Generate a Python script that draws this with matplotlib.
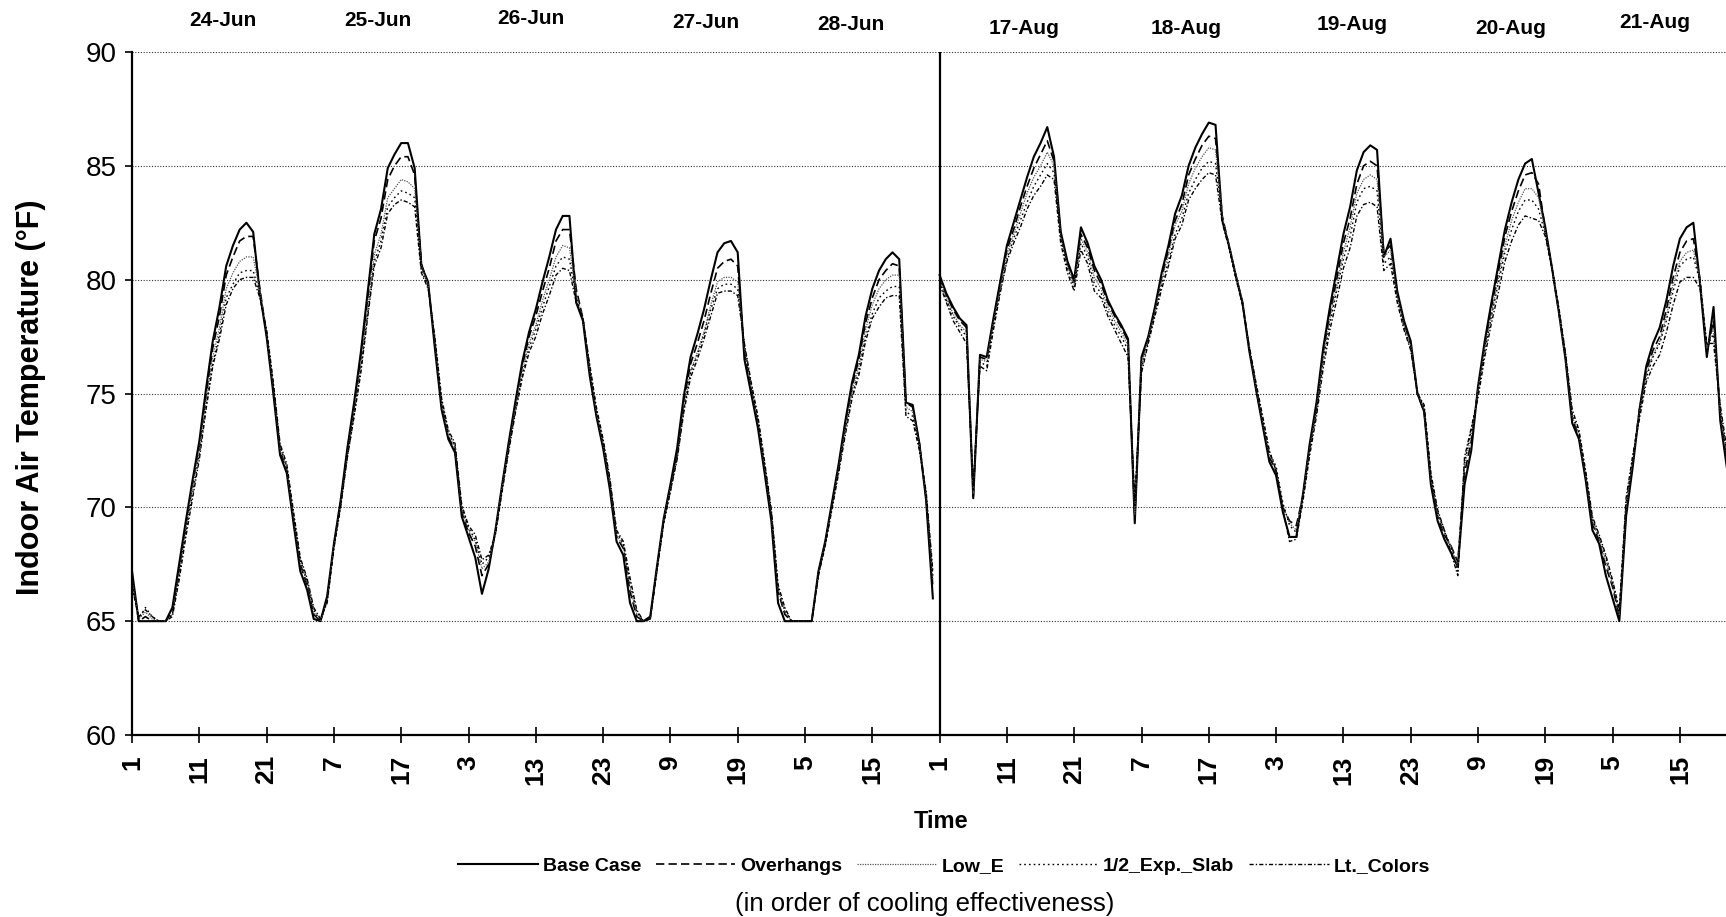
import numpy as np
import matplotlib
matplotlib.use("Agg")
import matplotlib.pyplot as plt

plt.rcParams['font.family'] = ['Liberation Sans', 'DejaVu Sans']

# ---------------- data (hourly indoor air temperature, deg F) ----------------
base_case = [
    67.2, 65.0, 65.0, 65.0, 65.0, 65.0, 65.6, 67.5, 69.4, 71.2, 72.9, 75.2, 77.3, 78.8, 80.6, 81.5, 82.2, 82.5, 82.1, 79.4, 77.5, 75.0, 72.3, 71.5,
    69.3, 67.2, 66.4, 65.1, 65.0, 66.1, 68.4, 70.3, 72.6, 74.6, 76.8, 79.4, 82.0, 83.1, 84.9, 85.5, 86.0, 86.0, 84.9, 80.6, 79.9, 77.0, 74.3, 73.0,
    72.4, 69.6, 68.7, 67.8, 66.2, 67.3, 69.0, 71.0, 72.9, 74.7, 76.4, 77.7, 78.7, 79.9, 81.0, 82.2, 82.8, 82.8, 79.0, 78.2, 75.8, 74.0, 72.6, 70.8,
    68.5, 67.9, 65.8, 65.0, 65.0, 65.2, 67.4, 69.5, 71.0, 72.6, 74.9, 76.6, 77.6, 78.7, 80.0, 81.2, 81.6, 81.7, 81.2, 76.5, 75.0, 73.5, 71.5, 69.4,
    65.8, 65.0, 65.0, 65.0, 65.0, 65.0, 67.2, 68.5, 70.2, 71.9, 73.8, 75.5, 76.7, 78.4, 79.6, 80.4, 80.9, 81.2, 80.9, 74.6, 74.5, 72.8, 70.3, 66.0,
    80.2, 79.4, 78.8, 78.3, 78.0, 70.4, 76.7, 76.6, 78.3, 79.9, 81.5, 82.5, 83.5, 84.5, 85.4, 86.0, 86.7, 85.4, 82.1, 80.8, 80.0, 82.3, 81.6, 80.6,
    80.0, 79.1, 78.5, 78.0, 77.4, 69.3, 76.6, 77.5, 78.8, 80.3, 81.5, 82.9, 83.7, 85.0, 85.8, 86.4, 86.9, 86.8, 82.6, 81.5, 80.2, 79.0, 76.9, 75.2,
    73.6, 72.0, 71.4, 69.8, 68.7, 68.7, 70.6, 72.8, 74.6, 77.0, 78.8, 80.4, 82.0, 83.2, 84.8, 85.6, 85.9, 85.7, 81.0, 81.8, 79.5, 78.2, 77.3, 75.0,
    74.2, 71.0, 69.4, 68.6, 68.0, 67.4, 71.0, 72.5, 75.3, 77.3, 79.0, 80.6, 82.2, 83.4, 84.4, 85.1, 85.3, 83.8, 82.3, 80.5, 78.6, 76.5, 73.7, 73.0,
    71.2, 69.0, 68.4, 67.0, 66.0, 65.0, 69.6, 71.8, 74.3, 76.2, 77.2, 77.9, 79.1, 80.6, 81.8, 82.3, 82.5, 79.8, 76.6, 78.8, 73.8, 71.7,
]

overhangs = [
    67.0, 65.0, 65.2, 65.0, 65.0, 65.0, 65.4, 67.3, 69.2, 71.0, 72.7, 74.9, 77.0, 78.4, 80.2, 81.0, 81.7, 81.9, 81.9, 79.6, 77.6, 75.2, 72.5, 71.6,
    69.5, 67.5, 66.6, 65.3, 65.0, 66.0, 68.3, 70.2, 72.5, 74.4, 76.6, 79.1, 81.7, 82.7, 84.4, 85.0, 85.4, 85.4, 84.6, 80.7, 79.8, 77.2, 74.5, 73.1,
    72.5, 69.8, 68.9, 68.3, 67.0, 67.5, 68.9, 70.9, 72.8, 74.6, 76.2, 77.5, 78.4, 79.5, 80.5, 81.7, 82.2, 82.2, 79.6, 78.3, 76.0, 74.1, 72.7, 71.0,
    68.7, 68.2, 66.3, 65.2, 65.0, 65.1, 67.3, 69.4, 70.9, 72.4, 74.7, 76.3, 77.2, 78.2, 79.4, 80.5, 80.8, 80.9, 80.6, 76.8, 75.2, 73.7, 71.7, 69.6,
    66.3, 65.3, 65.0, 65.0, 65.0, 65.0, 67.1, 68.4, 70.1, 71.8, 73.7, 75.3, 76.5, 78.1, 79.2, 80.0, 80.4, 80.7, 80.6, 74.6, 74.4, 72.8, 70.4, 66.5,
    80.1, 79.3, 78.7, 78.2, 77.9, 70.5, 76.6, 76.5, 78.2, 79.8, 81.3, 82.2, 83.2, 84.1, 84.9, 85.5, 86.1, 85.2, 82.0, 80.7, 79.9, 82.0, 81.4, 80.4,
    79.8, 79.0, 78.4, 77.9, 77.3, 69.5, 76.5, 77.4, 78.7, 80.1, 81.3, 82.6, 83.3, 84.6, 85.3, 85.9, 86.3, 86.2, 82.8, 81.5, 80.2, 79.0, 77.0, 75.3,
    73.7, 72.2, 71.6, 70.0, 69.4, 69.2, 70.5, 72.7, 74.4, 76.8, 78.5, 80.0, 81.6, 82.7, 84.2, 85.0, 85.2, 85.0, 81.2, 81.5, 79.4, 78.1, 77.2, 75.0,
    74.2, 71.2, 69.6, 68.8, 68.3, 67.6, 71.5, 72.9, 75.2, 77.1, 78.8, 80.3, 81.9, 83.0, 83.9, 84.6, 84.7, 84.2, 82.2, 80.5, 78.6, 76.6, 73.9, 73.1,
    71.3, 69.3, 68.5, 67.4, 66.5, 65.2, 69.8, 72.0, 74.3, 76.0, 76.9, 77.5, 78.7, 80.1, 81.2, 81.7, 81.8, 80.0, 76.8, 78.2, 74.0, 72.0,
]

low_e = [
    66.8, 65.1, 65.4, 65.1, 65.0, 65.0, 65.3, 67.1, 69.0, 70.9, 72.5, 74.7, 76.6, 77.9, 79.6, 80.3, 80.8, 81.0, 81.0, 79.5, 77.7, 75.3, 72.6, 71.7,
    69.6, 67.6, 66.7, 65.4, 65.0, 65.9, 68.3, 70.1, 72.3, 74.2, 76.2, 78.7, 81.1, 82.0, 83.6, 84.0, 84.4, 84.3, 84.0, 80.6, 79.8, 77.3, 74.6, 73.2,
    72.6, 69.9, 69.0, 68.5, 67.3, 67.6, 68.9, 70.9, 72.7, 74.4, 76.0, 77.2, 78.0, 79.1, 80.0, 81.0, 81.5, 81.4, 79.4, 78.3, 76.1, 74.2, 72.8, 71.1,
    68.8, 68.3, 66.5, 65.3, 65.0, 65.1, 67.3, 69.4, 70.8, 72.2, 74.4, 76.0, 76.8, 77.7, 78.9, 79.9, 80.1, 80.1, 79.9, 77.0, 75.3, 73.8, 71.8, 69.7,
    66.4, 65.4, 65.0, 65.0, 65.0, 65.0, 67.1, 68.4, 70.0, 71.7, 73.5, 75.1, 76.2, 77.8, 78.9, 79.6, 80.0, 80.2, 80.2, 74.4, 74.2, 72.7, 70.5, 66.8,
    80.0, 79.2, 78.5, 78.0, 77.7, 70.6, 76.5, 76.4, 78.1, 79.6, 81.1, 82.0, 82.9, 83.8, 84.5, 85.0, 85.6, 85.0, 81.9, 80.6, 79.8, 81.8, 81.2, 80.1,
    79.6, 78.8, 78.2, 77.7, 77.1, 69.7, 76.3, 77.4, 78.6, 80.0, 81.1, 82.4, 83.0, 84.2, 84.9, 85.4, 85.8, 85.7, 82.8, 81.5, 80.2, 79.0, 77.0, 75.3,
    73.8, 72.3, 71.7, 70.1, 69.3, 69.0, 70.5, 72.6, 74.3, 76.6, 78.3, 79.7, 81.2, 82.3, 83.8, 84.4, 84.6, 84.4, 81.0, 81.3, 79.3, 78.0, 77.1, 75.0,
    74.3, 71.3, 69.7, 68.9, 68.3, 67.4, 71.8, 73.2, 75.1, 77.0, 78.5, 80.0, 81.5, 82.6, 83.4, 84.0, 84.0, 83.6, 82.1, 80.5, 78.6, 76.6, 74.0, 73.2,
    71.4, 69.4, 68.6, 67.6, 66.6, 65.3, 70.0, 72.1, 74.2, 75.8, 76.7, 77.3, 78.4, 79.8, 80.8, 81.2, 81.3, 80.0, 77.0, 77.9, 74.2, 72.2,
]

half_exp_slab = [
    66.6, 65.1, 65.6, 65.2, 65.0, 65.0, 65.3, 67.0, 68.9, 70.6, 72.3, 74.4, 76.3, 77.6, 79.2, 79.8, 80.3, 80.4, 80.4, 79.3, 77.7, 75.4, 72.7, 71.8,
    69.7, 67.7, 66.8, 65.5, 65.0, 65.9, 68.3, 70.1, 72.2, 74.0, 76.1, 78.4, 80.8, 81.7, 83.2, 83.6, 83.9, 83.8, 83.6, 80.4, 79.7, 77.4, 74.7, 73.3,
    72.7, 70.0, 69.1, 68.6, 67.5, 67.8, 68.9, 70.8, 72.6, 74.3, 75.8, 77.0, 77.8, 78.8, 79.7, 80.6, 81.0, 80.9, 79.2, 78.3, 76.2, 74.3, 72.9, 71.2,
    68.9, 68.4, 66.7, 65.4, 65.0, 65.1, 67.3, 69.3, 70.7, 72.2, 74.3, 75.9, 76.7, 77.6, 78.7, 79.6, 79.8, 79.8, 79.6, 77.1, 75.4, 73.9, 71.9, 69.8,
    66.5, 65.5, 65.0, 65.0, 65.0, 65.0, 67.1, 68.4, 70.0, 71.6, 73.4, 74.9, 76.0, 77.5, 78.5, 79.2, 79.5, 79.7, 79.7, 74.2, 74.0, 72.6, 70.6, 67.0,
    79.9, 79.1, 78.4, 77.9, 77.5, 70.7, 76.4, 76.2, 78.0, 79.5, 80.9, 81.8, 82.6, 83.4, 84.1, 84.6, 85.1, 84.7, 81.8, 80.5, 79.7, 81.6, 81.0, 79.8,
    79.4, 78.6, 78.0, 77.5, 76.9, 70.0, 76.1, 77.3, 78.5, 79.8, 80.8, 82.0, 82.7, 83.8, 84.4, 84.9, 85.2, 85.1, 82.7, 81.4, 80.1, 78.9, 77.0, 75.4,
    73.9, 72.4, 71.8, 70.2, 69.2, 68.9, 70.4, 72.5, 74.2, 76.4, 78.1, 79.5, 80.9, 81.9, 83.4, 84.0, 84.1, 83.9, 80.7, 81.0, 79.2, 77.9, 77.0, 75.0,
    74.4, 71.4, 69.8, 69.0, 68.2, 67.2, 72.0, 73.4, 75.0, 76.8, 78.4, 79.8, 81.2, 82.2, 83.0, 83.5, 83.5, 83.1, 82.0, 80.5, 78.7, 76.7, 74.1, 73.3,
    71.5, 69.5, 68.7, 67.8, 66.7, 65.4, 70.2, 72.2, 74.1, 75.7, 76.6, 77.2, 78.2, 79.5, 80.6, 80.9, 81.0, 79.9, 77.1, 77.6, 74.3, 72.3,
]

lt_colors = [
    66.5, 65.2, 65.5, 65.2, 65.0, 65.0, 65.2, 66.8, 68.7, 70.4, 72.1, 74.3, 76.2, 77.4, 78.9, 79.6, 80.0, 80.1, 80.1, 79.2, 77.8, 75.5, 72.8, 71.9,
    69.8, 67.8, 66.9, 65.6, 65.1, 65.8, 68.2, 70.0, 72.2, 74.0, 75.9, 78.3, 80.6, 81.4, 82.9, 83.3, 83.5, 83.4, 83.2, 80.3, 79.6, 77.5, 74.8, 73.4,
    72.8, 70.1, 69.2, 68.8, 67.7, 67.9, 68.8, 70.7, 72.5, 74.2, 75.7, 76.8, 77.5, 78.5, 79.3, 80.2, 80.5, 80.4, 79.0, 78.3, 76.3, 74.4, 73.0, 71.3,
    69.0, 68.5, 66.9, 65.5, 65.0, 65.1, 67.2, 69.3, 70.7, 72.1, 74.2, 75.7, 76.5, 77.4, 78.4, 79.4, 79.5, 79.5, 79.3, 77.2, 75.5, 74.0, 72.0, 69.9,
    66.6, 65.6, 65.0, 65.0, 65.0, 65.0, 67.0, 68.3, 69.9, 71.5, 73.2, 74.8, 75.8, 77.3, 78.3, 78.8, 79.2, 79.3, 79.3, 74.0, 73.8, 72.5, 70.7, 67.2,
    79.8, 79.0, 78.2, 77.7, 77.2, 70.9, 76.2, 76.0, 77.8, 79.4, 80.8, 81.6, 82.3, 83.1, 83.7, 84.1, 84.6, 84.4, 81.6, 80.3, 79.5, 81.3, 80.7, 79.5,
    79.2, 78.4, 77.8, 77.2, 76.6, 70.3, 75.9, 77.2, 78.4, 79.6, 80.6, 81.8, 82.4, 83.5, 84.0, 84.4, 84.7, 84.6, 82.5, 81.4, 80.1, 78.9, 77.1, 75.5,
    74.0, 72.5, 71.6, 69.9, 68.5, 68.6, 70.3, 72.3, 74.0, 76.1, 77.8, 79.1, 80.5, 81.4, 82.8, 83.3, 83.4, 83.2, 80.4, 80.7, 79.0, 77.8, 76.9, 75.0,
    74.5, 71.5, 69.9, 69.0, 68.0, 67.0, 72.2, 73.5, 74.8, 76.6, 78.1, 79.4, 80.8, 81.7, 82.4, 82.8, 82.7, 82.6, 81.9, 80.5, 78.8, 76.8, 74.3, 73.4,
    71.6, 69.6, 68.8, 67.9, 66.8, 65.5, 70.4, 72.3, 73.9, 75.5, 76.2, 76.7, 77.7, 78.9, 79.9, 80.1, 80.1, 79.6, 77.2, 77.2, 74.5, 72.5,
]

series_names = ["Base Case", "Overhangs", "Low_E", "1/2_Exp._Slab", "Lt._Colors"]
tick_labels = ["1", "11", "21", "7", "17", "3", "13", "23", "9", "19", "5", "15",
               "1", "11", "21", "7", "17", "3", "13", "23", "9", "19", "5", "15"]
date_labels = ["24-Jun", "25-Jun", "26-Jun", "27-Jun", "28-Jun",
               "17-Aug", "18-Aug", "19-Aug", "20-Aug", "21-Aug"]
hours_per_period = 120

# ---------------- figure ----------------
W, H = 1726, 917
fig = plt.figure(figsize=(W / 100, H / 100), dpi=100)
ax_left, ax_right, ax_top, ax_bot = 132, 1726, 52, 735
ax = fig.add_axes([ax_left / W, 1 - ax_bot / H, (ax_right - ax_left) / W, (ax_bot - ax_top) / H])

styles = [
    dict(color="black", lw=1.5, ls="-"),
    dict(color="black", lw=1.2, ls=(0, (5, 2.5))),
    dict(color="#555555", lw=0.9, ls=(0, (1, 1))),
    dict(color="black", lw=1.0, ls=(0, (1.2, 2.2))),
    dict(color="black", lw=1.0, ls=(0, (3, 1.5, 1, 1.5))),
]
all_series = [base_case, overhangs, low_e, half_exp_slab, lt_colors]

x = np.arange(len(base_case))
handles = []
for name, vals, st in zip(series_names, all_series, styles):
    v = np.array(vals, dtype=float)
    h, = ax.plot(x[:hours_per_period], v[:hours_per_period], label=name, **st)
    ax.plot(x[hours_per_period:], v[hours_per_period:], **st)
    handles.append(h)

# divider between the two periods
ax.plot([hours_per_period, hours_per_period], [60, 90], color="black", lw=1.6)

ax.set_xlim(0, (ax_right - ax_left) / 6.73)
ax.set_ylim(60, 90)

ax.set_yticks([60, 65, 70, 75, 80, 85, 90])
ax.set_yticklabels(["60", "65", "70", "75", "80", "85", "90"], fontsize=20)
for yv in [65, 70, 75, 80, 85, 90]:
    ax.axhline(yv, color="#333333", lw=0.8, ls=(0, (1, 1.5)), zorder=0)

tick_pos = list(range(0, 240, 10))
ax.set_xticks(tick_pos)
ax.set_xticklabels(tick_labels, rotation=90, fontsize=19, fontweight="bold", va="top", ha="center")
ax.tick_params(axis="x", direction="inout", length=11, width=1.2, pad=9)
ax.tick_params(axis="y", direction="out", length=5, width=1.2, pad=6)

for s in ["top", "right"]:
    ax.spines[s].set_visible(False)
ax.spines["left"].set_linewidth(1.6)
ax.spines["bottom"].set_linewidth(1.6)

# date labels above the plot (x in data units, y in figure pixels)
date_x = [13.5, 36.5, 59.3, 85.3, 106.8, 132.5, 156.6, 181.3, 204.9, 226.3]
date_y = [21, 21, 19, 22, 24, 29, 28, 24, 29, 23]
for lbl, dx, dy in zip(date_labels, date_x, date_y):
    ax.text(dx, 1 + (ax_top - dy) / (ax_bot - ax_top), lbl, transform=ax.get_xaxis_transform(),
            ha="center", va="center", fontsize=15, fontweight="bold")

fig.text(31 / W, 1 - 397 / H, "Indoor Air Temperature (°F)", rotation=90, ha="center", va="center",
         fontsize=22, fontweight="bold")
fig.text(941 / W, 1 - 821 / H, "Time", ha="center", va="center", fontsize=17, fontweight="bold")

leg = fig.legend(handles=handles, labels=series_names, loc="center", bbox_to_anchor=(944 / W, 1 - 866 / H),
                 ncol=5, frameon=False, handlelength=4.1, handletextpad=0.25, columnspacing=0.75,
                 prop=dict(family="Liberation Sans", weight="bold", size=14))

fig.text(925 / W, 1 - 904 / H, "(in order of cooling effectiveness)", ha="center", va="center", fontsize=18.5)

fig.savefig("out.png", dpi=100)
